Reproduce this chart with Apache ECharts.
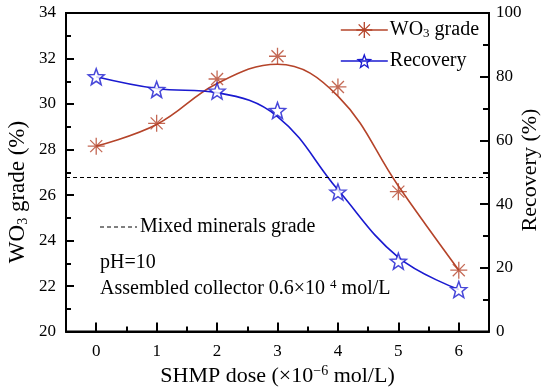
<!DOCTYPE html>
<html><head><meta charset="utf-8">
<script src="https://cdn.jsdelivr.net/npm/echarts@6/dist/echarts.min.js"></script>
<style>html,body{margin:0;padding:0;background:#fff}#c{width:550px;height:392px}</style>
</head><body><div id="c"></div>
<script>
var doses = [0, 1, 2, 3, 4, 5, 6];
var gradeValues = [28.15, 29.15, 31.1, 32.1, 30.75, 26.15, 22.7];
var recoveryValues = [80.0, 76.0, 75.5, 69.4, 43.8, 22.1, 13.2];
var gradeFit = [28.15, 29.1, 30.9, 31.75, 30.35, 26.4, 22.7];
var recoveryFit = [80.0, 76.3, 75.0, 67.5, 44.5, 23.3, 13.2];
var mixedGrade = 26.8;
var xTicks = [0, 1, 2, 3, 4, 5, 6];
var xMinorTicks = [0.5, 1.5, 2.5, 3.5, 4.5, 5.5];

var RED = '#B5442A', BLUE = '#1A1AD0';
var FONT = 'Liberation Serif';
var ASTER = 'path://M0,-8L0,8M-8,0L8,0M-5.66,-5.66L5.66,5.66M-5.66,5.66L5.66,-5.66';
var STAR = 'path://M0,-10L2.47,-3.4L9.51,-3.09L3.99,1.3L5.88,8.09L0,4.2L-5.88,8.09L-3.99,1.3L-9.51,-3.09L-2.47,-3.4Z';
var STAR_RING = 'path://M0,-10L2.47,-3.4L9.51,-3.09L3.99,1.3L5.88,8.09L0,4.2L-5.88,8.09L-3.99,1.3L-9.51,-3.09L-2.47,-3.4Z' +
  'M0,-5.6L-1.38,-1.9L-5.33,-1.73L-2.23,0.73L-3.29,4.53L0,2.35L3.29,4.53L2.23,0.73L5.33,-1.73L1.38,-1.9Z';

function pairs(xs, ys){ return xs.map(function(x,i){return [x, ys[i]];}); }

var chart = echarts.init(document.getElementById('c'), null, {renderer:'canvas'});
var axisLine = {show:true, onZero:false, lineStyle:{color:'#000', width:2}};
chart.setOption({
  animation:false,
  textStyle:{fontFamily:FONT},
  grid:{left:66, right:61, top:13, bottom:59, show:true, borderColor:'#000', borderWidth:2, backgroundColor:'transparent'},
  legend:{
    orient:'vertical', left:335, top:12, itemWidth:47, itemHeight:20, itemGap:11,
    data:[
      {name:'WO3 grade', itemStyle:{color:'transparent', borderColor:RED, borderWidth:1.3}, lineStyle:{color:RED, width:1.6}},
      {name:'Recovery', itemStyle:{color:BLUE, borderColor:BLUE, borderWidth:0}, lineStyle:{color:BLUE, width:1.6}}
    ],
    formatter:function(n){ return n==='WO3 grade' ? '{a|WO}{s|3}{a| grade}' : '{a|Recovery}'; },
    textStyle:{fontFamily:FONT, fontSize:20, color:'#000', padding:[0,0,0,-3],
      rich:{a:{fontFamily:FONT, fontSize:20, color:'#000', lineHeight:20},
            s:{fontFamily:FONT, fontSize:13, color:'#000', verticalAlign:'bottom', lineHeight:20, padding:[10,0,0,0]}}}
  },
  xAxis:[{
    type:'value', min:-0.5, max:6.5, position:'bottom',
    axisLine:axisLine,
    axisTick:{show:true, inside:true, length:9, customValues:xTicks, lineStyle:{color:'#000', width:2}},
    axisLabel:{show:true, customValues:xTicks, margin:11, fontFamily:FONT, fontSize:17, color:'#000'},
    splitLine:{show:false},
    name:'{a|SHMP dose (×10}{s|−6}{a| mol/L)}', nameLocation:'middle', nameGap:32,
    nameTextStyle:{rich:{a:{fontFamily:FONT, fontSize:22, color:'#000'}, s:{fontFamily:FONT, fontSize:14, color:'#000', verticalAlign:'top', padding:[0,0,9,0]}}}
  },{
    type:'value', min:-0.5, max:6.5, position:'bottom',
    axisLine:{show:false, onZero:false},
    axisTick:{show:true, inside:true, length:5, customValues:xMinorTicks, lineStyle:{color:'#000', width:2}},
    axisLabel:{show:false}, splitLine:{show:false}
  }],
  yAxis:[{
    type:'value', min:20, max:34, interval:2, position:'left',
    axisLine:axisLine,
    axisTick:{show:true, inside:true, length:8, lineStyle:{color:'#000', width:2}},
    minorTick:{show:true, splitNumber:2, length:5, lineStyle:{color:'#000', width:2}},
    axisLabel:{margin:10, fontFamily:FONT, fontSize:17, color:'#000'},
    splitLine:{show:false}
  },{
    type:'value', min:0, max:100, interval:20, position:'right',
    axisLine:axisLine,
    axisTick:{show:true, inside:true, length:9, lineStyle:{color:'#000', width:2}},
    minorTick:{show:true, splitNumber:2, length:6, lineStyle:{color:'#000', width:2}},
    axisLabel:{margin:7, fontFamily:FONT, fontSize:17, color:'#000'},
    splitLine:{show:false}
  }],
  series:[
    {name:'WO3 grade', type:'line', xAxisIndex:0, yAxisIndex:0, smooth:0.4, showSymbol:false,
     symbol:ASTER, symbolSize:16, data:pairs(doses, gradeFit),
     lineStyle:{color:RED, width:1.6}, itemStyle:{color:'transparent', borderColor:RED, borderWidth:1.3},
     markLine:{silent:true, symbol:'none', label:{show:false},
       lineStyle:{color:'#000', type:[4,3], width:1}, data:[{yAxis:mixedGrade}]}},
    {name:'Recovery', type:'line', xAxisIndex:0, yAxisIndex:1, smooth:0.4, showSymbol:false,
     symbol:STAR_RING, symbolSize:15, data:pairs(doses, recoveryFit),
     lineStyle:{color:BLUE, width:1.6}, itemStyle:{color:BLUE}},
    {name:'grade points', type:'scatter', xAxisIndex:0, yAxisIndex:0, symbol:ASTER, symbolSize:17,
     data:pairs(doses, gradeValues), itemStyle:{color:'transparent', borderColor:RED, borderWidth:1.3}, z:5},
    {name:'recovery points', type:'scatter', xAxisIndex:0, yAxisIndex:1, symbol:STAR, symbolSize:16,
     data:pairs(doses, recoveryValues), itemStyle:{color:'#fff', borderColor:BLUE, borderWidth:1.5}, z:5}
  ],
  graphic:[
    {type:'text', x:18, y:192, rotation:Math.PI/2, style:{text:'{a|WO}{s|3}{a| grade (%)}', align:'center', verticalAlign:'middle',
      rich:{a:{fontFamily:FONT, fontSize:23, fill:'#000'}, s:{fontFamily:FONT, fontSize:14, fill:'#000', verticalAlign:'bottom', padding:[11,0,0,0]}}}},
    {type:'text', x:530, y:170, rotation:Math.PI/2, style:{text:'Recovery (%)', align:'center', verticalAlign:'middle',
      font:'22px "Liberation Serif"', fill:'#000'}},
    {type:'line', shape:{x1:100, y1:227, x2:137, y2:227}, style:{stroke:'#000', lineWidth:1, lineDash:[4,3]}},
    {type:'text', x:140, y:227, style:{text:'Mixed minerals grade', font:'20px "Liberation Serif"', fill:'#000', verticalAlign:'middle'}},
    {type:'text', x:100, y:263, style:{text:'pH=10', font:'20px "Liberation Serif"', fill:'#000', verticalAlign:'middle'}},
    {type:'text', x:100, y:289, style:{text:'{a|Assembled collector 0.6×10 }{s|4}{a| mol/L}', verticalAlign:'middle',
      rich:{a:{fontFamily:FONT, fontSize:20, fill:'#000'}, s:{fontFamily:FONT, fontSize:13, fill:'#000', verticalAlign:'top', padding:[0,0,9,0]}}}}
  ]
});
</script></body></html>
